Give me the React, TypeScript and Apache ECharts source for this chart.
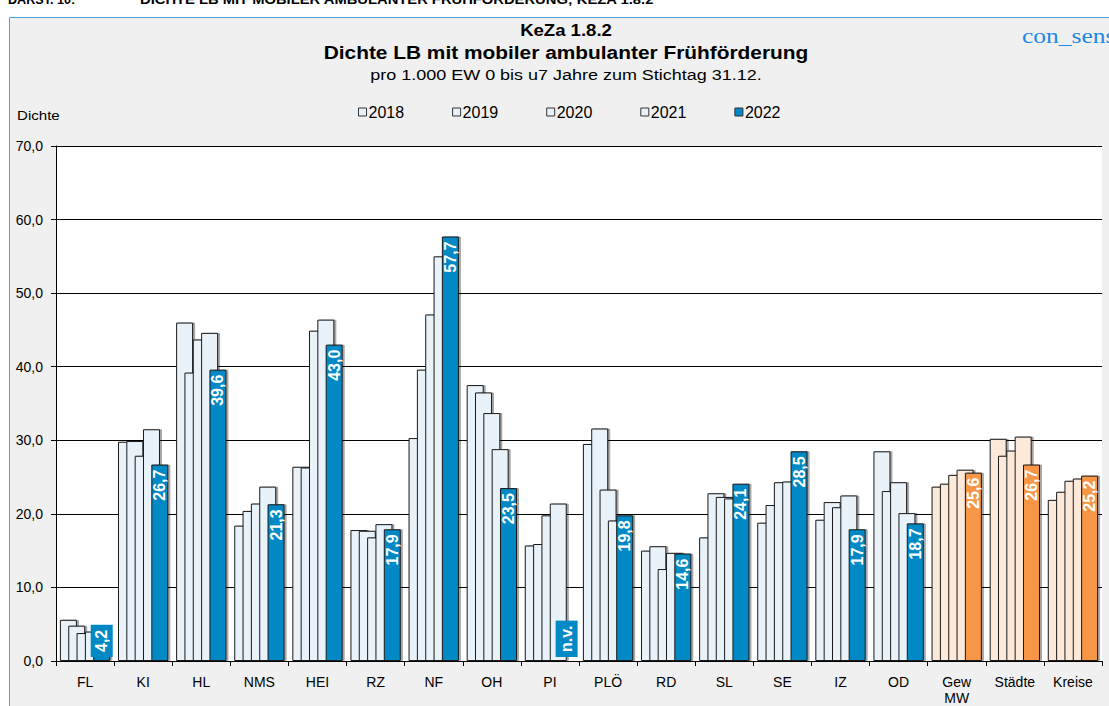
import React, { useEffect, useRef } from "react";
import * as echarts from "echarts";

const categories = ["FL", "KI", "HL", "NMS", "HEI", "RZ", "NF", "OH", "PI", "PLÖ", "RD", "SL", "SE", "IZ", "OD", "Gew\nMW", "Städte", "Kreise"];
const summaryCats = ["Gew\nMW", "Städte", "Kreise"];
const years = ["2018", "2019", "2020", "2021", "2022"];
const v2018 = [5.6, 29.8, 46.0, 18.4, 26.4, 17.8, 30.3, 37.5, 15.7, 29.5, 15.0, 16.8, 18.8, 19.2, 28.5, 23.7, 30.2, 21.9];
const v2019 = [4.8, 29.9, 39.2, 20.4, 26.3, 17.7, 39.6, 36.5, 15.9, 31.6, 15.6, 22.8, 21.2, 21.6, 23.1, 24.1, 27.9, 23.0];
const v2020 = [3.8, 27.9, 43.7, 21.4, 44.9, 16.8, 47.1, 33.7, 19.8, 23.3, 12.5, 22.3, 24.3, 20.9, 24.3, 25.3, 28.6, 24.5];
const v2021 = [4.0, 31.5, 44.6, 23.7, 46.4, 18.6, 55.0, 28.8, 21.4, 19.1, 14.7, 22.1, 24.4, 22.5, 20.1, 26.0, 30.5, 24.8];
const v2022: (number | null)[] = [4.2, 26.7, 39.6, 21.3, 43.0, 17.9, 57.7, 23.5, null, 19.8, 14.6, 24.1, 28.5, 17.9, 18.7, 25.6, 26.7, 25.2];
const yMin = 0;
const yMax = 70;
const yStep = 10;

const FONT = "'Liberation Sans', Arial, sans-serif";
const BLUE = "#0089c4";
const LIGHT_BLUE = "#e9f2f9";
const ORANGE = "#f79646";
const LIGHT_ORANGE = "#fde9d9";
const STRETCH = 1.16;

const fmt = (v: number) => v.toFixed(1).replace(".", ",");

export default function App() {
  const ref = useRef<HTMLDivElement>(null);
  useEffect(() => {
    if (!ref.current) return;
    const chart = echarts.init(ref.current, undefined, { renderer: "svg" });
    const yearValues = [v2018, v2019, v2020, v2021, v2022];

    const series = years.map((yr, si) => {
      const isMain = si === years.length - 1;
      const vals = yearValues[si];
      const data = vals.map((v, ci) => {
        const summary = summaryCats.includes(categories[ci]);
        const fill = isMain ? (summary ? ORANGE : BLUE) : summary ? LIGHT_ORANGE : LIGHT_BLUE;
        const item: any = { value: v == null ? 0 : v, itemStyle: { color: fill } };
        if (isMain) {
          const small = v == null || v < 8;
          item.label = {
            show: true,
            formatter: v == null ? "n.v." : fmt(v),
            position: small ? "insideBottom" : "insideTop",
            align: small ? "left" : "right",
            distance: small ? 4 : 5,
            backgroundColor: small ? fill : "transparent",
            padding: small ? [3, 5] : [0, 0],
          };
          if (v == null) {
            item.itemStyle = { color: "transparent", borderWidth: 0, shadowColor: "transparent" };
          }
        }
        return item;
      });
      return {
        name: yr,
        type: "bar",
        barWidth: 17,
        barGap: "-51%",
        data,
        itemStyle: {
          color: isMain ? BLUE : LIGHT_BLUE,
          borderColor: "#1a1a1a",
          borderWidth: 1,
          shadowColor: "rgba(0,0,0,0.35)",
          shadowOffsetX: 2,
          shadowOffsetY: 0,
          shadowBlur: 0,
        },
        label: {
          show: false,
          rotate: 90,
          verticalAlign: "middle",
          color: "#fff",
          fontWeight: "bold",
          fontSize: 16,
          fontFamily: FONT,
        },
      };
    });

    const txt = (x: number, y: number, text: string, font: string, extra: any = {}) => ({
      type: "text",
      x,
      y,
      scaleX: STRETCH,
      style: { text, font, fill: "#000", verticalAlign: "middle", ...extra },
    });

    chart.setOption({
      animation: false,
      backgroundColor: "#ffffff",
      textStyle: { fontFamily: FONT },
      graphic: [
        {
          type: "rect",
          z: -10,
          shape: { x: 9.5, y: 17.5, width: 1110, height: 700 },
          style: { fill: "#f0f0f0", stroke: "#4aa3df", lineWidth: 1 },
        },
        { ...txt(8, 0, "DARST. 10:", `bold 12px ${FONT}`), scaleX: 1.05 },
        { ...txt(140, 0, "DICHTE LB MIT MOBILER AMBULANTER FRÜHFÖRDERUNG; KEZA 1.8.2", `bold 12px ${FONT}`), scaleX: 1.23 },
        txt(1022, 36, "con_sens", `22px 'Liberation Serif', 'Times New Roman', serif`, { fill: "#1e88e5" }),
        txt(566, 30, "KeZa 1.8.2", `bold 16px ${FONT}`, { align: "center" }),
        txt(566, 53, "Dichte LB mit mobiler ambulanter Frühförderung", `bold 18px ${FONT}`, { align: "center" }),
        txt(566, 75, "pro 1.000 EW 0 bis u7 Jahre zum Stichtag 31.12.", `15.5px ${FONT}`, { align: "center" }),
        txt(17, 115, "Dichte", `13px ${FONT}`),
      ],
      legend: {
        data: years,
        left: 353,
        top: 99,
        icon: "rect",
        itemWidth: 8,
        itemHeight: 8,
        itemGap: 48,
        itemStyle: { borderColor: "#333", borderWidth: 1, shadowColor: "transparent" },
        textStyle: { fontSize: 16, color: "#000", fontFamily: FONT, padding: [0, 0, 0, -3] },
      },
      grid: {
        left: 56,
        right: 7,
        top: 146,
        bottom: 42,
        show: true,
        backgroundColor: "#ffffff",
        borderWidth: 0,
      },
      xAxis: {
        type: "category",
        data: categories,
        axisLine: { lineStyle: { color: "#000", width: 1 } },
        axisTick: { show: true, alignWithLabel: false, length: 5, lineStyle: { color: "#000" } },
        axisLabel: { color: "#000", fontSize: 14, fontFamily: FONT, margin: 13, interval: 0, lineHeight: 16 },
      },
      yAxis: {
        type: "value",
        min: yMin,
        max: yMax,
        interval: yStep,
        axisLine: { show: true, lineStyle: { color: "#000", width: 1 } },
        axisTick: { show: true, length: 5, lineStyle: { color: "#000" } },
        axisLabel: { color: "#000", fontSize: 14, fontFamily: FONT, margin: 13, formatter: (v: number) => fmt(v) },
        splitLine: { show: true, lineStyle: { color: "#000", width: 1 } },
      },
      series,
    });
    return () => chart.dispose();
  }, []);

  return <div ref={ref} style={{ position: "fixed", left: 0, top: 0, width: 1109, height: 706 }} />;
}
